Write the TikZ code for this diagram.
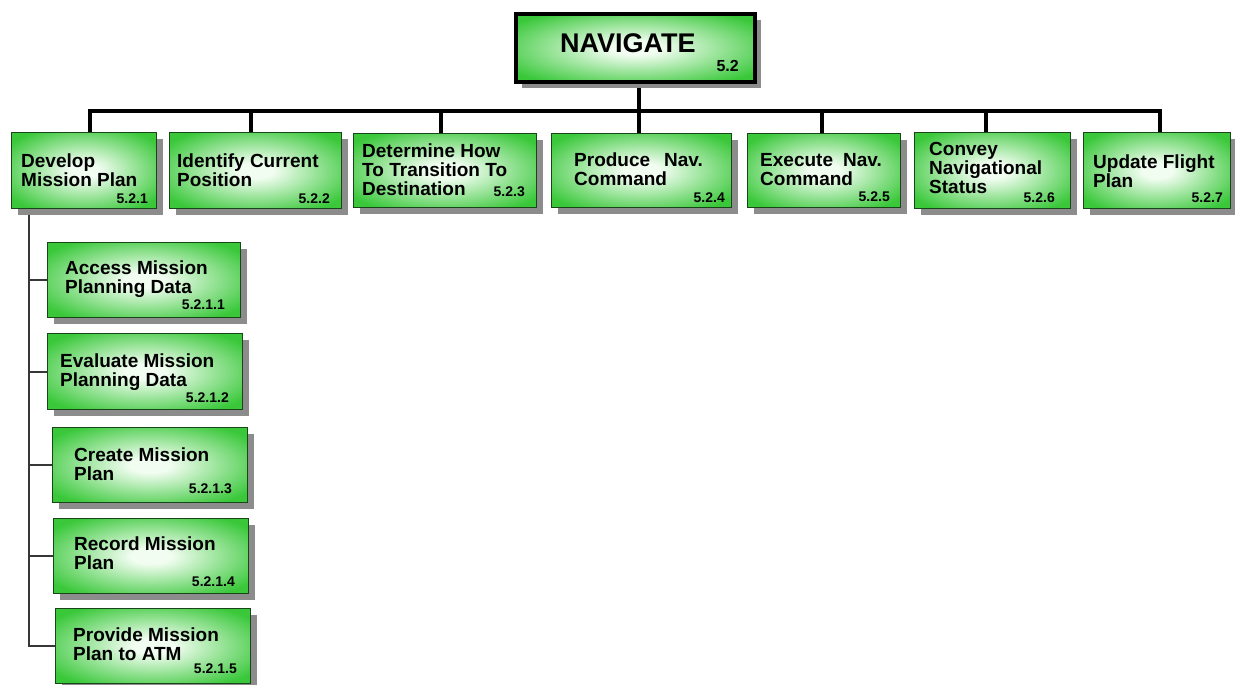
\documentclass[tikz,border=0pt]{standalone}
\usepackage{fontspec}
\setmainfont{Liberation Sans}
\usetikzlibrary{shadows}

\definecolor{glowin}{RGB}{242,253,242}
\definecolor{glowout}{RGB}{58,200,58}
\definecolor{boxedge}{RGB}{24,70,24}
\definecolor{shadowgray}{RGB}{140,140,140}
\definecolor{trunkgray}{RGB}{55,55,55}

% soft white glow in the middle of each task box
\pgfdeclareradialshading{glow}{\pgfpointorigin}{%
  color(0bp)=(glowin); color(5bp)=(glowin); color(31bp)=(glowout); color(50bp)=(glowout)}

% stacked lines of a task title, baseline on the first line
\newcommand\mlines[1]{\begin{tabular}[t]{@{}l@{}}#1\end{tabular}}

\pgfdeclarelayer{wires}
\pgfsetlayers{wires,main}

\tikzset{
  boxshadow/.style={drop shadow={shadow xshift=6pt, shadow yshift=-6pt, fill=shadowgray, opacity=1}},
  taskbox/.style={rectangle, anchor=north west, inner sep=0pt, draw=boxedge,
    line width=1.2pt, shade, shading=glow, boxshadow},
  rootbox/.style={rectangle, anchor=north west, inner sep=0pt, draw=black,
    line width=4pt, shade, shading=glow, boxshadow},
  tasktext/.style={anchor=base west, inner sep=0pt,
    font=\fontsize{19}{19}\selectfont\bfseries},
  tasknum/.style={anchor=base east, inner sep=0pt,
    font=\fontsize{14}{15}\selectfont\bfseries},
  roottext/.style={anchor=base west, inner sep=0pt,
    font=\fontsize{27}{28}\selectfont\bfseries},
  rootnum/.style={anchor=base east, inner sep=0pt,
    font=\fontsize{16}{17}\selectfont\bfseries},
  mainline/.style={draw=black, line width=4pt},
  subline/.style={draw=trunkgray, line width=1.8pt},
}

\begin{document}
\begin{tikzpicture}[x=1pt, y=-1pt]
\useasboundingbox (0,0) rectangle (1235,685);

% ---- root ----
\node[rootbox, minimum width=239pt, minimum height=68pt] (nav) at (514,12) {};
\node[roottext] (navt) at (560,53) {NAVIGATE};
\node[rootnum]  (navn) at (739,71) {5.2};

% ---- level-2 tasks ----
\node[taskbox, minimum width=145pt, minimum height=76pt] (c1) at (11,132)   {};
\node[taskbox, minimum width=172pt, minimum height=76pt] (c2) at (169,132)  {};
\node[taskbox, minimum width=183pt, minimum height=74pt] (c3) at (353,133)  {};
\node[taskbox, minimum width=180pt, minimum height=74pt] (c4) at (551,133)  {};
\node[taskbox, minimum width=153pt, minimum height=74pt] (c5) at (747,133)  {};
\node[taskbox, minimum width=156pt, minimum height=76pt] (c6) at (914,132)  {};
\node[taskbox, minimum width=147pt, minimum height=76pt] (c7) at (1083,132) {};

\node[tasktext] (t1) at (21,167)   {\mlines{Develop\\Mission Plan}};
\node[tasknum]  (n1) at (148,203)  {5.2.1};
\node[tasktext] (t2) at (177,167)  {\mlines{Identify Current\\Position}};
\node[tasknum]  (n2) at (330,203)  {5.2.2};
\node[tasktext] (t3) at (362,157)  {\mlines{Determine How\\To Transition To\\Destination}};
\node[tasknum]  (n3) at (525,196)  {5.2.3};
\node[tasktext] (t4) at (574,166)  {\mlines{Produce\hspace{14pt}Nav.\\Command}};
\node[tasknum]  (n4) at (725,202)  {5.2.4};
\node[tasktext] (t5) at (760,166)  {\mlines{Execute\hspace{10pt}Nav.\\Command}};
\node[tasknum]  (n5) at (890,201)  {5.2.5};
\node[tasktext] (t6) at (929,155)  {\mlines{Convey\\Navigational\\Status}};
\node[tasknum]  (n6) at (1055,202) {5.2.6};
\node[tasktext] (t7) at (1093,168) {\mlines{Update Flight\\Plan}};
\node[tasknum]  (n7) at (1223,202) {5.2.7};

% ---- level-3 tasks under "Develop Mission Plan" ----
\node[taskbox, minimum width=193pt, minimum height=75pt] (s1) at (47,242) {};
\node[taskbox, minimum width=195pt, minimum height=76pt] (s2) at (47,333) {};
\node[taskbox, minimum width=195pt, minimum height=75pt] (s3) at (52,427) {};
\node[taskbox, minimum width=195pt, minimum height=75pt] (s4) at (53,518) {};
\node[taskbox, minimum width=195pt, minimum height=75pt] (s5) at (55,608) {};

\node[tasktext] (u1) at (65,274)  {\mlines{Access Mission\\Planning Data}};
\node[tasknum]  (m1) at (225,309) {5.2.1.1};
\node[tasktext] (u2) at (60,367)  {\mlines{Evaluate Mission\\Planning Data}};
\node[tasknum]  (m2) at (229,402) {5.2.1.2};
\node[tasktext] (u3) at (74,461)  {\mlines{Create Mission\\Plan}};
\node[tasknum]  (m3) at (232,493) {5.2.1.3};
\node[tasktext] (u4) at (74,550)  {\mlines{Record Mission\\Plan}};
\node[tasknum]  (m4) at (235,586) {5.2.1.4};
\node[tasktext] (u5) at (73,641)  {\mlines{Provide Mission\\Plan to ATM}};
\node[tasknum]  (m5) at (237,673) {5.2.1.5};

% ---- connectors, kept underneath the boxes ----
\begin{pgfonlayer}{wires}
  % root straight down through the bus to "Produce Nav. Command"
  \draw[mainline] ([xshift=3.5pt]nav.south) -- ([xshift=3.5pt]nav.south |- c4.north);
  % the bus with its two end drops
  \draw[mainline] ([xshift=5.5pt]c1.north) -- ++(0,-21) -| ([xshift=2.5pt]c7.north);
  % remaining drops
  \draw[mainline] ([xshift=-5pt]c2.north)   -- ++(0,-21);
  \draw[mainline] ([xshift=-4.5pt]c3.north) -- ++(0,-21);
  \draw[mainline] ([xshift=-2.5pt]c5.north) -- ++(0,-21);
  \draw[mainline] ([xshift=-7pt]c6.north)   -- ++(0,-21);
  % trunk with branches to each level-3 task
  \coordinate (trunk) at ([xshift=-55.5pt]c1.south);
  \foreach \s in {s1,s2,s3,s4,s5}
    \draw[subline] (trunk) |- (\s.west);
\end{pgfonlayer}
\end{tikzpicture}
\end{document}
